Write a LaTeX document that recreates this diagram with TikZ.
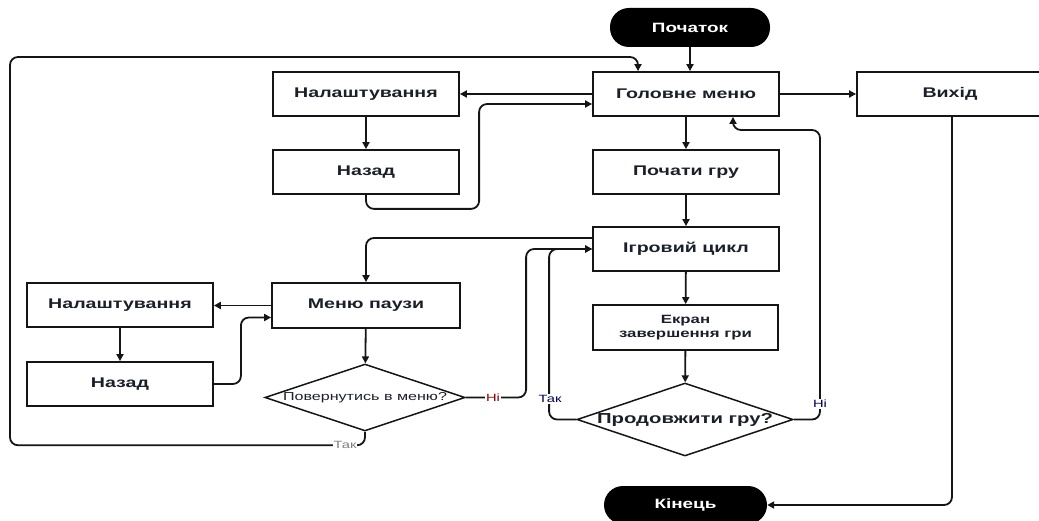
\documentclass[tikz,border=0pt]{standalone}
\usepackage{fontspec}
\setmainfont{Liberation Sans}[FakeStretch=1.4]
\usetikzlibrary{shapes.geometric,arrows.meta,calc}
\definecolor{ink}{HTML}{1B1F2A}
\definecolor{lineclr}{HTML}{151515}
\begin{document}
\begin{tikzpicture}[x=1pt,y=-1pt,
  box/.style={draw=lineclr, line width=1.8pt, minimum width=186pt, minimum height=44pt,
              inner sep=2pt, text=ink, font=\fontsize{14}{16}\selectfont\bfseries},
  term/.style={fill=black, rounded corners=19pt, minimum width=160pt, minimum height=39pt,
               text=white, font=\fontsize{13.5}{15}\selectfont\bfseries},
  dec/.style={draw=lineclr, diamond, line width=1.5pt, inner sep=0pt},
  flow/.style={draw=lineclr, line width=1.8pt, rounded corners=8pt,
               -{Triangle[length=7pt,width=7pt]}},
  lbl/.style={fill=white, inner sep=1pt, font=\fontsize{10.5}{12}\selectfont}]
\useasboundingbox (0,0) rectangle (1039,521);

% blocks
\node[term] (start) at (690,27.5) {Початок};
\node[box] (main)  at (686,94)  {Головне меню};
\node[box] (exitb) at (950,94)  {Вихід};
\node[box] (set1)  at (366,94)  {Налаштування};
\node[box] (back1) at (366,172) {Назад};
\node[box] (play)  at (686,172) {Почати гру};
\node[box] (loop)  at (686,249) {Ігровий цикл};
\node[box, minimum width=188pt, minimum height=45pt] (pause) at (366,305.5) {Меню паузи};
\node[box] (set2)  at (120,305) {Налаштування};
\node[box] (back2) at (120,384) {Назад};
\node[box, minimum width=185pt, minimum height=45pt, align=center,
      font=\fontsize{12}{14.5}\selectfont\bfseries] (over) at (685.5,327.5) {Екран\\завершення гри};
\node[dec, minimum width=200pt, minimum height=67pt] (ask1) at (365,397.5) {};
\node[text=ink, font=\fontsize{11.5}{13}\selectfont] at (ask1) {Повернутись в меню?};
\node[dec, minimum width=216pt, minimum height=73pt] (ask2) at (685,419.5) {};
\node[text=ink, font=\fontsize{14.5}{16}\selectfont\bfseries] at (ask2) {Продовжити гру?};
\node[term, minimum width=163pt, minimum height=38pt] (end) at (685.5,505) {Кінець};

% connectors
\draw[flow] (start.south) -- (start.south |- main.north);
\draw[flow] (main.west) -- (set1.east);
\draw[flow] (main.east) -- (exitb.west);
\draw[flow] (set1) -- (back1);
\draw[flow] (back1.south) -- ++(0,14) -| ($(main.west)+(-113,10)$) -- ($(main.west)+(0,10)$);
\draw[flow] (main) -- (play);
\draw[flow] (play) -- (loop);
\draw[flow] (loop) -- (over);
\draw[flow] (over) -- (ask2);
\draw[flow] ($(loop.west)+(0,-11)$) -| (pause.north);
\draw[flow] (pause) -- (ask1);
\draw[flow] (pause.west) -- (pause.west -| set2.east);
\draw[flow] (set2) -- (back2);
\draw[flow] (back2.east) -- ++(27,0) |- ($(pause.west)+(0,12)$);
\draw[flow] (ask1.south) -- ++(0,13.5) -| (10,57) -| ($(main.north)+(-48,0)$);
\draw[flow] (ask1.east) -| ($(loop.west)+(-66,0)$) -- (loop.west);
\draw[flow] (ask2.west) -| ($(loop.west)+(-43,0)$) -- (loop.west);
\draw[flow] (ask2.east) -| (820,130) -| ($(main.south)+(47,0)$);
\draw[flow] ($(exitb.south)+(2,0)$) |- (end.east);

% branch labels
\node[lbl, text=red!55!black] at (493,397.5) {Ні};
\node[lbl, text=gray] at (345,445) {Так};
\node[lbl, text=blue!35!black] at (550,399) {Так};
\node[lbl, text=blue!35!black] at (820,404) {Ні};
\end{tikzpicture}
\end{document}
